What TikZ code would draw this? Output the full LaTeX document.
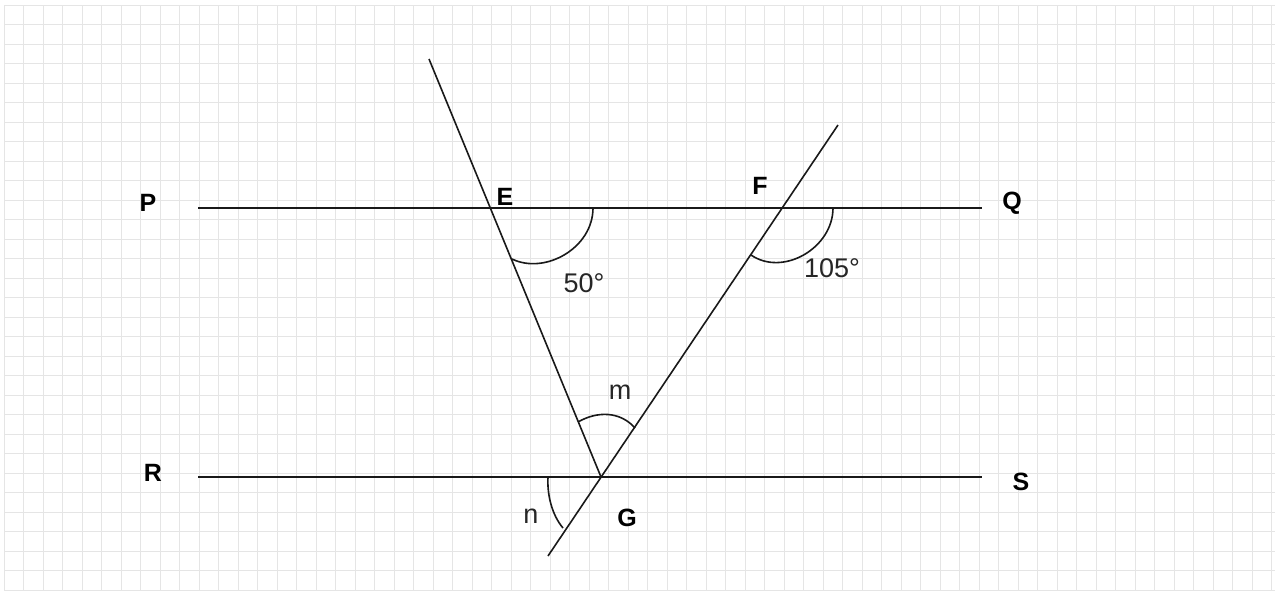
\documentclass[tikz,border=0pt]{standalone}
\usepackage{fontspec}
\setmainfont{Liberation Sans}
\begin{document}
\begin{tikzpicture}[x=1pt,y=-1pt,
  gridline/.style={draw=black!10,line width=1pt},
  seg/.style={draw=black!90,line width=1.6pt},
  arcline/.style={draw=black!90,line width=1.6pt},
  ptlabel/.style={font=\fontsize{25}{27}\selectfont\bfseries,inner sep=0pt},
  anglabel/.style={font=\fontsize{27}{29}\selectfont,inner sep=0pt,text=black!85}]
\useasboundingbox (0,0) rectangle (1275,590);
\fill[white] (0,0) rectangle (1275,590);
\foreach \i in {0,...,65} {\draw[gridline] ({4+19.5*\i},5) -- ({4+19.5*\i},590);}
\foreach \j in {0,...,30} {\draw[gridline] (4,{5+19.5*\j}) -- (1275,{5+19.5*\j});}
% key points
\coordinate (Pend) at (198,208);
\coordinate (Qend) at (982,208);
\coordinate (Rend) at (198,477);
\coordinate (Send) at (982,477);
\coordinate (Etop) at (429,59);
\coordinate (Ftop) at (838,125);
\coordinate (Gpt) at (601,477);
\coordinate (Fbot) at (548,556);
\draw[seg] (Pend) -- (Qend);
\draw[seg] (Rend) -- (Send);
\draw[seg] (Etop) -- (Gpt);
\draw[seg] (Ftop) -- (Fbot);
% angle arcs
\draw[arcline] (593,208) .. controls (593,248) and (545,275) .. (512,259);
\draw[arcline] (833,208) .. controls (833,248) and (783,277) .. (751,255);
\draw[arcline] (578,422) .. controls (597,411) and (620,411) .. (635,428);
\draw[arcline] (548,477) .. controls (547,495) and (552,515) .. (563,528);
% labels
\node[ptlabel] (P) at (148,203) {P};
\node[ptlabel] (Q) at (1012,203) {Q};
\node[ptlabel] (R) at (153,473) {R};
\node[ptlabel] (S) at (1021,482) {S};
\node[ptlabel] (E) at (505,197) {E};
\node[ptlabel] (F) at (760,186) {F};
\node[ptlabel] (G) at (627,518) {G};
\node[anglabel] (a50) at (584,283) {50°};
\node[anglabel] (a105) at (832,268) {105°};
\node[anglabel] (m) at (620,392) {m};
\node[anglabel] (n) at (531,516) {n};
\end{tikzpicture}
\end{document}
